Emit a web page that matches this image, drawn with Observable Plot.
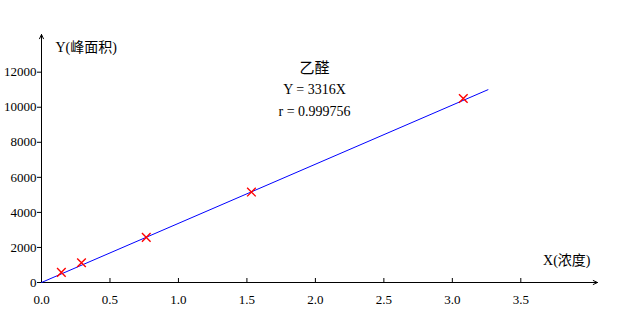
<!DOCTYPE html>
<html><head><meta charset="utf-8">
<script src="https://cdn.jsdelivr.net/npm/d3@7"></script>
<script src="https://cdn.jsdelivr.net/npm/@observablehq/plot@0.6"></script>
<style>body{margin:0;background:#fff} svg text{font-family:'Liberation Serif','Noto Sans CJK SC',serif}</style>
</head><body><div id="chart"></div>
<script>
// Data
const concX = [0.145, 0.292, 0.765, 1.533, 3.08];
const areaY = [580, 1130, 2575, 5160, 10500];
const fitX = [0, 3.26];
const fitY = [0, 11000];
const xTicks = [0, 0.5, 1.0, 1.5, 2.0, 2.5, 3.0, 3.5];
const yTicks = [0, 2000, 4000, 6000, 8000, 10000, 12000];
const xDomain = [0, 4.06];
const yDomain = [0, 14150];
const titleText = "乙醛";
const equationText = "Y = 3316X";
const rText = "r = 0.999756";
const xLabel = "X(浓度)";
const yLabel = "Y(峰面积)";

const points = concX.map((x, i) => ({x, y: areaY[i]}));
const fit = fitX.map((x, i) => ({x, y: fitY[i]}));
const axes = [
  {x1: 0, y1: 0, x2: xDomain[1], y2: 0},
  {x1: 0, y1: 0, x2: 0, y2: yDomain[1]}
];

const font = "'Liberation Serif', 'Noto Sans CJK SC', serif";

const chart = Plot.plot({
  width: 618,
  height: 325,
  marginLeft: 41,
  marginRight: 21,
  marginTop: 34,
  marginBottom: 43,
  style: {fontFamily: font, fontSize: "13px", color: "#000", background: "#fff"},
  x: {domain: xDomain},
  y: {domain: yDomain},
  marks: [
    Plot.axisX(xTicks, {tickSize: -4, tickPadding: 16, tickFormat: d3.format(".1f"), label: null, fontSize: 13, fontFamily: font}),
    Plot.axisY(yTicks, {tickSize: 4, tickPadding: 1, tickFormat: d => String(d), label: null, fontSize: 13, fontFamily: font}),
    Plot.arrow(axes, {x1: "x1", y1: "y1", x2: "x2", y2: "y2", stroke: "#000", strokeWidth: 1, headLength: 7, headAngle: 50}),
    Plot.line(fit, {x: "x", y: "y", stroke: "#0000ff", strokeWidth: 1}),
    Plot.dot(points, {x: "x", y: "y", symbol: "times", r: 4, stroke: "#ff0000", strokeWidth: 1.4}),
    Plot.text([titleText], {frameAnchor: "top", dx: -5, dy: 28, fontSize: 15, fill: "#000", fontFamily: font}),
    Plot.text([equationText], {frameAnchor: "top", dx: -5, dy: 50, fontSize: 14, fill: "#000", fontFamily: font}),
    Plot.text([rText], {frameAnchor: "top", dx: -5, dy: 72, fontSize: 14, fill: "#000", fontFamily: font}),
    Plot.text([yLabel], {frameAnchor: "top-left", textAnchor: "start", dx: 14, dy: 8, fontSize: 14, fill: "#000", fontFamily: font}),
    Plot.text([xLabel], {frameAnchor: "bottom-right", textAnchor: "end", dx: -7, dy: -18, fontSize: 14, fill: "#000", fontFamily: font})
  ]
});
document.getElementById("chart").appendChild(chart);
</script>
</body></html>
